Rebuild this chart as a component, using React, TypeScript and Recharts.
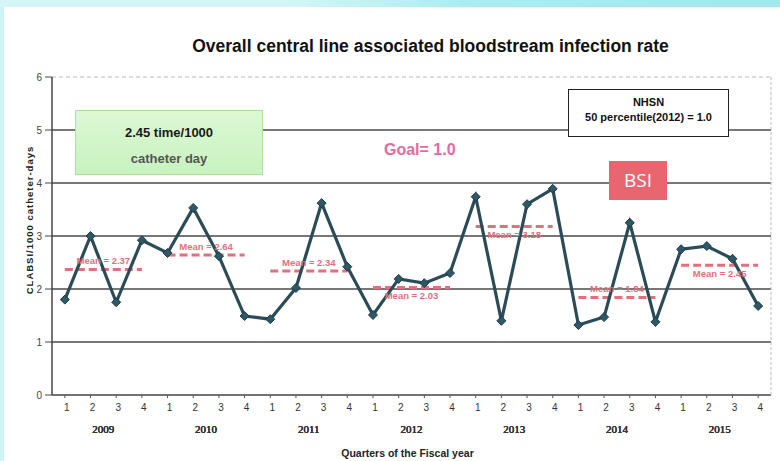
import React from 'react';
import { ComposedChart, Line, XAxis, YAxis, ReferenceLine } from 'recharts';

const years = ['2009', '2010', '2011', '2012', '2013', '2014', '2015'];
const quarters = ['1', '2', '3', '4'];
const rates = [
  1.8, 3.0, 1.75, 2.92,
  2.68, 3.53, 2.62, 1.49,
  1.43, 2.02, 3.62, 2.42,
  1.51, 2.19, 2.11, 2.3,
  3.74, 1.4, 3.6, 3.89,
  1.32, 1.47, 3.25, 1.38,
  2.75, 2.81, 2.57, 1.68,
];
const yearMeans = [2.37, 2.64, 2.34, 2.03, 3.18, 1.84, 2.45];
const meanLabelSide = ['top', 'top', 'top', 'bottom', 'bottom', 'top', 'bottom'];
const yTicks = [0, 1, 2, 3, 4, 5, 6];
const gridValues = [1, 2, 3, 4, 5];

const data = years.flatMap((y, yi) =>
  quarters.map((q, qi) => ({ key: `${y}-${q}`, year: y, quarter: q, rate: rates[yi * 4 + qi] }))
);

const LINE = '#2b4c57';
const MEAN = '#e2707c';

const Diamond = (p: any) => {
  const { cx, cy } = p;
  if (cx == null || cy == null) return null;
  const s = 4.5;
  return (
    <polygon
      points={`${cx},${cy - s} ${cx + s},${cy} ${cx},${cy + s} ${cx - s},${cy}`}
      fill="#2f5866"
      stroke="#1f3c46"
      strokeWidth={1}
    />
  );
};

export default function App() {
  return (
    <div
      style={{
        position: 'absolute',
        left: 0,
        top: 0,
        width: 780,
        height: 461,
        background: '#ffffff',
        fontFamily: '"Liberation Sans", Arial, sans-serif',
        overflow: 'hidden',
      }}
    >
      <div
        style={{
          position: 'absolute',
          left: 0,
          top: 0,
          width: 4,
          height: 461,
          background: '#cdf4f4',
        }}
      />
      <div
        style={{
          position: 'absolute',
          left: 0,
          top: 0,
          width: 780,
          height: 7,
          background: 'linear-gradient(to right, #d4f6f6 0%, #d4f6f6 36%, #a9edf0 60%, #9fe8ec 100%)',
        }}
      />
      <ComposedChart
        width={780}
        height={461}
        data={data}
        margin={{ top: 77, right: 0, left: 0, bottom: 16 }}
        style={{ position: 'absolute', left: 0, top: 0 }}
      >
        <XAxis
          dataKey="key"
          scale="band"
          interval={0}
          tickFormatter={(v: string) => v.split('-')[1]}
          tick={{ fill: '#333', fontSize: 10, dx: 2 }}
          tickLine={{ stroke: '#555' }}
          tickSize={3}
          tickMargin={6}
          axisLine={{ stroke: '#444', strokeWidth: 1.5 }}
          height={22}
        />
        <XAxis
          xAxisId="year"
          dataKey="year"
          scale="band"
          allowDuplicatedCategory={false}
          axisLine={false}
          tickLine={false}
          tick={{ fill: '#333', fontSize: 11, fontWeight: 'normal', fontFamily: '"Liberation Serif", serif' }}
          height={28}
        />
        <YAxis
          domain={[0, 6]}
          ticks={yTicks}
          width={52}
          tick={{ fill: '#444', fontSize: 10 }}
          tickLine={{ stroke: '#444' }}
          tickSize={7}
          tickMargin={3}
          axisLine={{ stroke: '#444', strokeWidth: 1.5 }}
        />
        <YAxis
          yAxisId="r"
          orientation="right"
          width={9}
          tick={false}
          tickLine={false}
          axisLine={{ stroke: '#bbb', strokeDasharray: '3 2' }}
          domain={[0, 6]}
        />
        {gridValues.map((g) => (
          <ReferenceLine key={`g${g}`} y={g} stroke="#4a4a4a" strokeWidth={1.3} />
        ))}
        <ReferenceLine y={6} stroke="#bbb" strokeDasharray="4 3" />
        {years.map((y, i) => (
          <ReferenceLine
            key={`m${y}`}
            segment={[
              { x: `${y}-1`, y: yearMeans[i] },
              { x: `${y}-4`, y: yearMeans[i] },
            ]}
            stroke={MEAN}
            strokeWidth={3}
            strokeDasharray="8 4"
            label={{
              value: `Mean = ${yearMeans[i].toFixed(2)}`,
              position: meanLabelSide[i] as any,
              fill: MEAN,
              fontSize: 9.5,
              fontWeight: 'bold',
              offset: 5,
            }}
          />
        ))}
        <Line
          dataKey="rate"
          stroke={LINE}
          strokeWidth={3.2}
          dot={<Diamond />}
          activeDot={false}
          isAnimationActive={false}
        />
      </ComposedChart>

      <div
        style={{
          position: 'absolute',
          left: 0,
          width: 861,
          top: 36,
          textAlign: 'center',
          fontWeight: 'bold',
          fontSize: 17.5,
          color: '#111',
          whiteSpace: 'nowrap',
        }}
      >
        Overall central line associated bloodstream infection rate
      </div>

      <div
        style={{
          position: 'absolute',
          left: 29,
          top: 220,
          transform: 'translate(-50%, -50%) rotate(-90deg)',
          whiteSpace: 'nowrap',
          fontSize: 9.5,
          letterSpacing: 1,
          fontWeight: 'bold',
          color: '#222',
        }}
      >
        CLABSI/1000 catheter-days
      </div>

      <div
        style={{
          position: 'absolute',
          left: 0,
          width: 815,
          top: 447,
          textAlign: 'center',
          fontSize: 10.5,
          fontWeight: 'bold',
          color: '#222',
          whiteSpace: 'nowrap',
        }}
      >
        Quarters of the Fiscal year
      </div>

      <div
        style={{
          position: 'absolute',
          left: 75,
          top: 110,
          width: 188,
          height: 65,
          boxSizing: 'border-box',
          border: '1px solid #a9e29c',
          background: 'linear-gradient(#dcf8d4, #c9f2bf)',
          textAlign: 'center',
          fontWeight: 'bold',
          fontSize: 13,
        }}
      >
        <div style={{ marginTop: 14, color: '#1a1a1a' }}>2.45 time/1000</div>
        <div style={{ marginTop: 11, color: '#555' }}>catheter day</div>
      </div>

      <div
        style={{
          position: 'absolute',
          left: 568,
          top: 89,
          width: 161,
          height: 48,
          boxSizing: 'border-box',
          border: '1.5px solid #222',
          background: '#fff',
          textAlign: 'center',
          fontWeight: 'bold',
          fontSize: 11,
          color: '#111',
          lineHeight: '15px',
          paddingTop: 5,
        }}
      >
        <div>NHSN</div>
        <div>50 percentile(2012) = 1.0</div>
      </div>

      <div
        style={{
          position: 'absolute',
          left: 609,
          top: 161,
          width: 58,
          height: 39,
          background: '#e8666f',
          color: '#fff',
          fontSize: 19,
          textAlign: 'center',
          lineHeight: '39px',
          fontFamily: '"Open Sans", "Liberation Sans", sans-serif',
        }}
      >
        BSI
      </div>

      <div
        style={{
          position: 'absolute',
          left: 384,
          top: 141,
          fontSize: 16,
          fontWeight: 'bold',
          color: '#e56aa2',
          whiteSpace: 'nowrap',
        }}
      >
        Goal= 1.0
      </div>
    </div>
  );
}
